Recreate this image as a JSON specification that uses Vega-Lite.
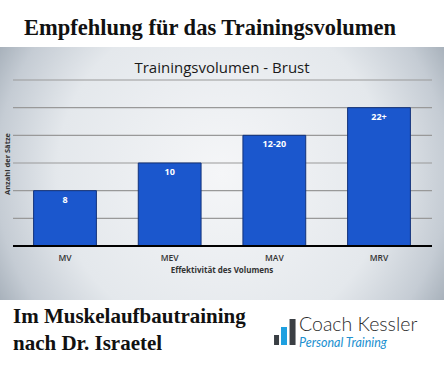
{
  "$schema": "https://vega.github.io/schema/vega-lite/v6.json",
  "width": 444,
  "height": 253,
  "autosize": {"type": "none"},
  "padding": {"top": 47, "bottom": 65, "left": 0, "right": 0},
  "background": "#ffffff",
  "title": {
    "text": "Empfehlung für das Trainingsvolumen",
    "font": "Liberation Serif",
    "fontSize": 22.5,
    "fontWeight": "bold",
    "color": "#111111",
    "anchor": "start",
    "frame": "group",
    "dx": 24,
    "offset": 8
  },
  "config": {
    "view": {
      "stroke": null,
      "fill": {
        "gradient": "radial",
        "x1": 0.5, "y1": 0.5, "x2": 0.5, "y2": 0.5,
        "r1": 0, "r2": 0.62,
        "stops": [
          {"offset": 0, "color": "#f5f6f8"},
          {"offset": 0.6, "color": "#e4e8ec"},
          {"offset": 0.82, "color": "#c5ccd4"},
          {"offset": 1, "color": "#95a0ab"}
        ]
      }
    }
  },
  "datasets": {
    "levels": [
      {"level": "MV", "units": 2, "label": "8"},
      {"level": "MEV", "units": 3, "label": "10"},
      {"level": "MAV", "units": 4, "label": "12-20"},
      {"level": "MRV", "units": 5, "label": "22+"}
    ],
    "grid": [
      {"g": 1}, {"g": 2}, {"g": 3}, {"g": 4}, {"g": 5}, {"g": 6}
    ]
  },
  "layer": [
    {
      "data": {"name": "grid"},
      "mark": {"type": "rule", "color": "#999999", "strokeWidth": 1.2},
      "encoding": {
        "x": {"datum": "MV", "type": "nominal", "bandPosition": -0.328,
              "scale": {"type": "band", "domain": ["MV", "MEV", "MAV", "MRV"], "paddingInner": 0.4, "paddingOuter": 0.321},
              "axis": null},
        "x2": {"datum": "MRV", "bandPosition": 1.344},
        "y": {"field": "g", "type": "quantitative",
              "scale": {"domain": [-1.952, 7.193], "nice": false, "zero": false},
              "axis": null}
      }
    },
    {
      "data": {"name": "levels"},
      "mark": {"type": "bar", "fill": "#1b57cd", "stroke": "#12327a", "strokeWidth": 1},
      "encoding": {
        "x": {"field": "level", "type": "nominal", "sort": null, "axis": null},
        "y": {"field": "units", "type": "quantitative", "axis": null}
      }
    },
    {
      "data": {"values": [{"v": 0}]},
      "mark": {"type": "rule", "color": "#000000", "strokeWidth": 2},
      "encoding": {
        "x": {"datum": "MV", "type": "nominal", "bandPosition": -0.328},
        "x2": {"datum": "MRV", "bandPosition": 1.344},
        "y": {"field": "v", "type": "quantitative"}
      }
    },
    {
      "data": {"name": "levels"},
      "mark": {"type": "text", "color": "#ffffff", "font": "Open Sans", "fontSize": 9, "fontWeight": "bold", "baseline": "top", "dy": 5},
      "encoding": {
        "x": {"field": "level", "type": "nominal"},
        "y": {"field": "units", "type": "quantitative"},
        "text": {"field": "label"}
      }
    },
    {
      "data": {"name": "levels"},
      "mark": {"type": "text", "color": "#333333", "font": "Open Sans", "fontSize": 8.5, "fontWeight": 600, "baseline": "middle"},
      "encoding": {
        "x": {"field": "level", "type": "nominal"},
        "y": {"datum": -0.434},
        "text": {"field": "level"}
      }
    },
    {
      "data": {"values": [{"t": "Effektivität des Volumens"}]},
      "mark": {"type": "text", "color": "#333333", "font": "Open Sans", "fontSize": 8, "fontWeight": "bold", "baseline": "middle"},
      "encoding": {
        "y": {"datum": -0.9},
        "text": {"field": "t"}
      }
    },
    {
      "data": {"values": [{"t": "Trainingsvolumen - Brust"}]},
      "mark": {"type": "text", "color": "#1a1a1a", "font": "Open Sans", "fontSize": 15, "fontWeight": 500, "baseline": "middle"},
      "encoding": {
        "y": {"datum": 6.434},
        "text": {"field": "t"}
      }
    },
    {
      "data": {"values": [{"t": "Anzahl der Sätze"}]},
      "mark": {"type": "text", "color": "#333333", "font": "Open Sans", "fontSize": 7.5, "fontWeight": "bold", "baseline": "middle", "angle": 270},
      "encoding": {
        "x": {"datum": "MV", "type": "nominal", "bandPosition": -0.408},
        "y": {"datum": 2.964},
        "text": {"field": "t"}
      }
    },
    {
      "data": {"values": [{"t": "Im Muskelaufbautraining\nnach Dr. Israetel"}]},
      "mark": {"type": "text", "color": "#111111", "font": "Liberation Serif", "fontSize": 21, "fontWeight": "bold", "align": "left", "baseline": "alphabetic", "lineBreak": "\n", "lineHeight": 27},
      "encoding": {
        "x": {"datum": "MV", "type": "nominal", "bandPosition": -0.328},
        "y": {"datum": -2.783},
        "text": {"field": "t"}
      }
    },
    {
      "data": {"values": [{"t": "Coach Kessler"}]},
      "mark": {"type": "text", "color": "#2b2b2b", "font": "Lato", "fontSize": 19.5, "fontWeight": 300, "align": "left", "baseline": "alphabetic"},
      "encoding": {
        "x": {"datum": "MAV", "type": "nominal", "bandPosition": 0.893},
        "y": {"datum": -3.072},
        "text": {"field": "t"}
      }
    },
    {
      "data": {"values": [{"t": "Personal Training"}]},
      "mark": {"type": "text", "color": "#2090d0", "font": "Lato", "fontSize": 12.5, "fontStyle": "italic", "align": "left", "baseline": "alphabetic"},
      "encoding": {
        "x": {"datum": "MAV", "type": "nominal", "bandPosition": 0.893},
        "y": {"datum": -3.65},
        "text": {"field": "t"}
      }
    },
    {
      "data": {"values": [{"top": -3.217}]},
      "mark": {"type": "rule", "strokeWidth": 5, "strokeCap": "butt", "color": "#3a3f44"},
      "encoding": {
        "x": {"datum": "MAV", "type": "nominal", "bandPosition": 0.535},
        "y": {"field": "top", "type": "quantitative"},
        "y2": {"datum": -3.578}
      }
    },
    {
      "data": {"values": [{"top": -2.928}]},
      "mark": {"type": "rule", "strokeWidth": 6, "strokeCap": "butt", "color": "#1ea0e0"},
      "encoding": {
        "x": {"datum": "MAV", "type": "nominal", "bandPosition": 0.654},
        "y": {"field": "top", "type": "quantitative"},
        "y2": {"datum": -3.578}
      }
    },
    {
      "data": {"values": [{"top": -2.639}]},
      "mark": {"type": "rule", "strokeWidth": 6, "strokeCap": "butt", "color": "#3a3f44"},
      "encoding": {
        "x": {"datum": "MAV", "type": "nominal", "bandPosition": 0.79},
        "y": {"field": "top", "type": "quantitative"},
        "y2": {"datum": -3.578}
      }
    }
  ]
}
